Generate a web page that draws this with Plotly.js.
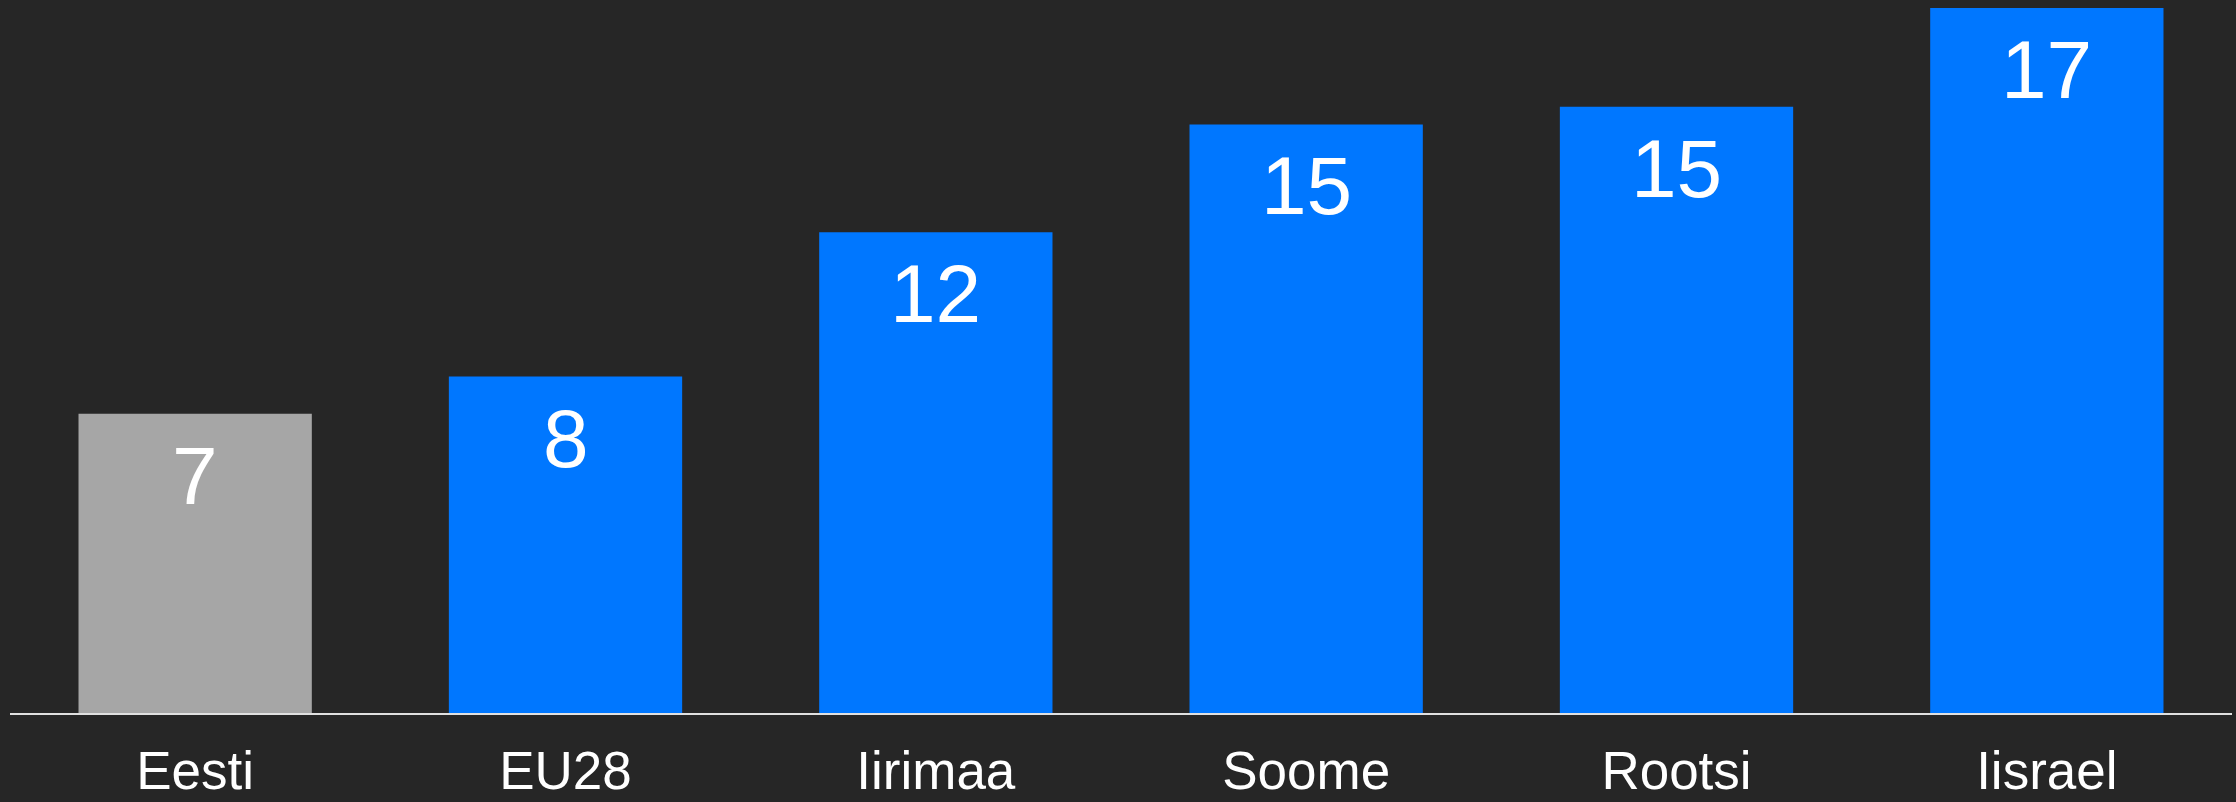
<!DOCTYPE html>
<html>
<head>
<meta charset="utf-8">
<script src="https://cdn.plot.ly/plotly-3.0.1.min.js"></script>
<style>html,body{margin:0;padding:0;background:#262626;}#chart{width:2236px;height:802px;}</style>
</head>
<body>
<div id="chart"></div>
<script>
const categories = ["Eesti", "EU28", "Iirimaa", "Soome", "Rootsi", "Iisrael"];
const values = [7.41, 8.33, 11.9, 14.57, 15.01, 17.45];
const valueLabels = ["7", "8", "12", "15", "15", "17"];
const barColors = ["#A6A6A6", "#0077FF", "#0077FF", "#0077FF", "#0077FF", "#0077FF"];

const FONT = "Liberation Sans, Arial, sans-serif";

const trace = {
  type: "bar",
  x: categories,
  y: values,
  marker: {color: barColors, line: {width: 0}},
  hoverinfo: "none"
};

const annotations = categories.map((c, i) => ({
  x: c, y: values[i], xref: "x", yref: "y",
  text: valueLabels[i], showarrow: false,
  yanchor: "top", yshift: -14,
  font: {family: FONT, size: 82, color: "#FFFFFF"}
}));

const layout = {
  width: 2236, height: 802,
  paper_bgcolor: "#262626", plot_bgcolor: "#262626",
  margin: {l: 10, r: 4, t: 0, b: 89, pad: 0},
  bargap: 0.37,
  showlegend: false,
  xaxis: {
    type: "category",
    showline: true, linecolor: "#E0E0E0", linewidth: 2,
    showgrid: false, zeroline: false, ticks: "",
    tickfont: {family: FONT, size: 53, color: "#FFFFFF"},
    ticklabelstandoff: 10
  },
  yaxis: {
    range: [0, 17.65], visible: false, showgrid: false, zeroline: false, fixedrange: true
  },
  annotations: annotations,
  font: {family: FONT}
};

Plotly.newPlot("chart", [trace], layout, {staticPlot: true, displayModeBar: false});
</script>
</body>
</html>
